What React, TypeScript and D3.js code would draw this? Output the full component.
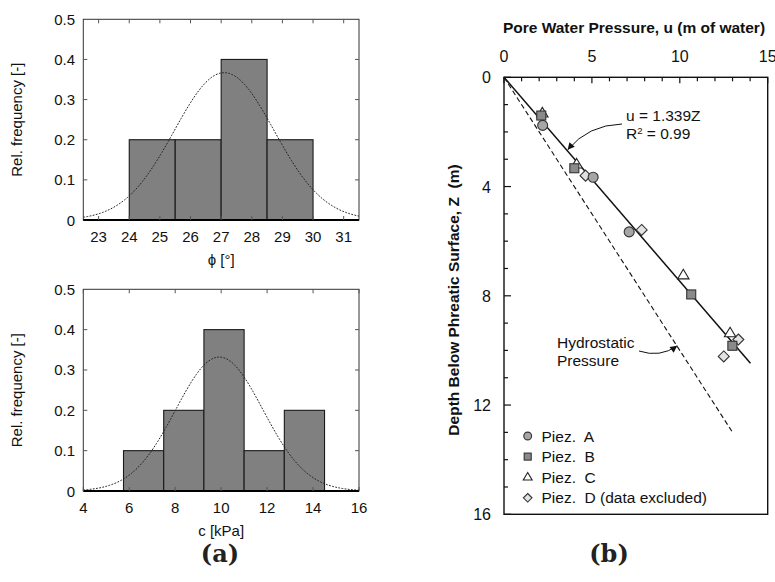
import React from "react";
import * as d3 from "d3";

// ---------- Data ----------
const phiEdges = [24, 25.5, 27, 28.5, 30];
const phiFreq = [0.2, 0.2, 0.4, 0.2];
const phiTicks = [23, 24, 25, 26, 27, 28, 29, 30, 31];
const phiFit = { mean: 27.1, sd: 1.63, peak: 0.367 };

const cEdges = [5.75, 7.5, 9.25, 11, 12.75, 14.5];
const cFreq = [0.1, 0.2, 0.4, 0.1, 0.2];
const cTicks = [4, 6, 8, 10, 12, 14, 16];
const cFit = { mean: 9.92, sd: 1.9, peak: 0.332 };

const freqTicks = [0, 0.1, 0.2, 0.3, 0.4, 0.5];

// Pore pressure (u, Z)
const piezA = [[2.2, 1.76], [5.07, 3.66], [7.12, 5.66]];
const piezB = [[2.12, 1.4], [4.0, 3.33], [10.65, 7.95], [12.99, 9.83]];
const piezC = [[2.18, 1.32], [4.13, 3.19], [10.2, 7.25], [12.86, 9.37]];
const piezD = [[4.64, 3.6], [7.83, 5.59], [13.33, 9.6], [12.5, 10.22]];
const fitSlope = 1.339;
const fitZmax = 10.47;
const hydroZmax = 13;
const uTicks = [0, 5, 10, 15];
const zTicks = [0, 4, 8, 12, 16];
const legendLabels = ["Piez.  A", "Piez.  B", "Piez.  C", "Piez.  D (data excluded)"];

const FONT = "'Liberation Sans', Arial, Helvetica, sans-serif";

function Hist({ y0, y1, xDomain, xTicks, edges, freqs, fit, xLabel }) {
  const x = d3.scaleLinear().domain(xDomain).range([83.3, 359]);
  const y = d3.scaleLinear().domain([0, 0.5]).range([y1, y0]);
  const pts = d3.range(xDomain[0], xDomain[1] + 0.001, (xDomain[1] - xDomain[0]) / 200).map((v) => [
    v,
    fit.peak * Math.exp(-((v - fit.mean) ** 2) / (2 * fit.sd * fit.sd)),
  ]);
  const line = d3.line().x((d) => x(d[0])).y((d) => y(d[1]));
  const tl = 4;
  return (
    <g fontFamily={FONT}>
      {freqs.map((f, i) => (
        <rect key={i} x={x(edges[i])} y={y(f)} width={x(edges[i + 1]) - x(edges[i])} height={y(0) - y(f)}
          fill="#808080" stroke="#1a1a1a" strokeWidth={1.1} />
      ))}
      <path d={line(pts)} fill="none" stroke="#222" strokeWidth={1} strokeDasharray="1.8,1.4" />
      <rect x={x.range()[0]} y={y0} width={x.range()[1] - x.range()[0]} height={y1 - y0} fill="none" stroke="#333" strokeWidth={1} />
      <line x1={x.range()[0]} x2={x.range()[1]} y1={y(0)} y2={y(0)} stroke="#000" strokeWidth={2} />
      {xTicks.map((t) => (
        <g key={t}>
          <line x1={x(t)} x2={x(t)} y1={y1} y2={y1 - tl} stroke="#555" />
          <line x1={x(t)} x2={x(t)} y1={y0} y2={y0 + tl} stroke="#555" />
          <text x={x(t)} y={y1 + 22} textAnchor="middle" fontSize={15} fill="#111">{t}</text>
        </g>
      ))}
      {freqTicks.map((t) => (
        <g key={t}>
          {t > 0 && t < 0.5 && (
            <>
              <line x1={x.range()[0]} x2={x.range()[0] + tl} y1={y(t)} y2={y(t)} stroke="#555" />
              <line x1={x.range()[1]} x2={x.range()[1] - tl} y1={y(t)} y2={y(t)} stroke="#555" />
            </>
          )}
          <text x={75} y={y(t) + 5.5} textAnchor="end" fontSize={15} fill="#111">{t === 0 ? "0" : t.toFixed(1)}</text>
        </g>
      ))}
      <text transform={`translate(22,${(y0 + y1) / 2}) rotate(-90)`} textAnchor="middle" fontSize={15} fill="#111">Rel. frequency [-]</text>
      <text x={(x.range()[0] + x.range()[1]) / 2} y={y1 + 45} textAnchor="middle" fontSize={15} fill="#111">{xLabel}</text>
    </g>
  );
}

function Marker({ type, cx, cy, s = 1 }) {
  if (type === "A") return <circle cx={cx} cy={cy} r={5 * s} fill="#a6a6a6" stroke="#333" strokeWidth={1.1} />;
  if (type === "B") return <rect x={cx - 4.5 * s} y={cy - 4.5 * s} width={9 * s} height={9 * s} fill="#8a8a8a" stroke="#333" strokeWidth={1.1} />;
  if (type === "C") {
    const r = 6 * s;
    return <path d={`M${cx},${cy - r} L${cx + r * 0.95},${cy + r * 0.6} L${cx - r * 0.95},${cy + r * 0.6} Z`} fill="#fff" stroke="#222" strokeWidth={1.1} />;
  }
  const r = 5.5 * s;
  return <path d={`M${cx},${cy - r} L${cx + r},${cy} L${cx},${cy + r} L${cx - r},${cy} Z`} fill="#e2e2e2" stroke="#333" strokeWidth={1.1} />;
}

function Pressure() {
  const x = d3.scaleLinear().domain([0, 15]).range([504, 767.7]);
  const y = d3.scaleLinear().domain([0, 16]).range([77.3, 514.3]);
  const minorU = d3.range(0, 16, 1);
  const minorZ = d3.range(0, 17, 1);
  const series = [
    ["D", piezD],
    ["C", piezC],
    ["B", piezB],
    ["A", piezA],
  ];
  const fitEndZ = 2.62;
  const hydEndZ = 9.83;
  const ax = x(fitSlope * fitEndZ) + 2;
  const ay = y(fitEndZ) + 1;
  const hx = x(hydEndZ) + 0.5;
  const hy = y(hydEndZ);
  return (
    <g fontFamily={FONT}>
      <defs>
        <marker id="arr" viewBox="0 0 10 10" refX="10" refY="5" markerWidth="9" markerHeight="7" markerUnits="userSpaceOnUse" orient="auto">
          <path d="M0,0 L10,5 L0,10 Z" fill="#111" />
        </marker>
      </defs>
      <rect x={504} y={77.3} width={263.7} height={437} fill="none" stroke="#111" strokeWidth={1.4} />
      {minorU.map((t) => (
        <line key={t} x1={x(t)} x2={x(t)} y1={y(0)} y2={y(0) + (t % 5 === 0 ? 6 : 4)} stroke="#111" strokeWidth={1.2} />
      ))}
      {minorZ.map((t) => (
        <line key={t} x1={x(0)} x2={x(0) + (t % 4 === 0 ? 7 : 4)} y1={y(t)} y2={y(t)} stroke="#111" strokeWidth={1.2} />
      ))}
      {uTicks.map((t) => (
        <text key={t} x={x(t)} y={62} textAnchor="middle" fontSize={16} fill="#111">{t}</text>
      ))}
      {zTicks.map((t) => (
        <text key={t} x={491} y={y(t) + 6} textAnchor="end" fontSize={16} fill="#111">{t}</text>
      ))}
      <text x={634} y={33} textAnchor="middle" fontSize={15.5} fontWeight="bold" fill="#111">Pore Water Pressure, u (m of water)</text>
      <text transform={`translate(459,${300}) rotate(-90)`} textAnchor="middle" fontSize={15.5} fontWeight="bold" fill="#111" style={{ whiteSpace: "pre" }}>Depth Below Phreatic Surface, Z  (m)</text>

      <line x1={x(0)} y1={y(0)} x2={x(hydroZmax)} y2={y(hydroZmax)} stroke="#111" strokeWidth={1.1} strokeDasharray="5,3" />
      <line x1={x(0)} y1={y(0)} x2={x(fitSlope * fitZmax)} y2={y(fitZmax)} stroke="#111" strokeWidth={1.5} />

      {series.map(([k, pts]) =>
        pts.map((p, i) => <Marker key={k + i} type={k} cx={x(p[0])} cy={y(p[1])} />)
      )}

      <text x={626} y={121} fontSize={15.5} fill="#111">u = 1.339Z</text>
      <text x={626} y={139} fontSize={15.5} fill="#111">R<tspan dy={-5} fontSize={9.5}>2</tspan><tspan dy={5}> = 0.99</tspan></text>
      <path d={`M622,124 Q588,125 ${ax},${ay}`} fill="none" stroke="#111" strokeWidth={1} markerEnd="url(#arr)" />

      <text x={557} y={348} fontSize={15.5} fill="#111">Hydrostatic</text>
      <text x={557} y={366} fontSize={15.5} fill="#111">Pressure</text>
      <path d={`M639,351 Q660,358 ${hx},${hy}`} fill="none" stroke="#111" strokeWidth={1} markerEnd="url(#arr)" />

      {["A", "B", "C", "D"].map((k, i) => (
        <g key={k}>
          <Marker type={k} cx={527.7} cy={436 + i * 20.6} s={0.78} />
          <text x={541.5} y={441.5 + i * 20.6} fontSize={15.5} fill="#111" style={{ whiteSpace: "pre" }}>{legendLabels[i]}</text>
        </g>
      ))}
    </g>
  );
}

export default function App() {
  return (
    <svg width={775} height={582} style={{ position: "absolute", left: 0, top: 0, background: "#fff" }}>
      <rect width={775} height={582} fill="#fff" />
      <Hist y0={19.3} y1={220} xDomain={[22.5, 31.5]} xTicks={phiTicks} edges={phiEdges} freqs={phiFreq} fit={phiFit} xLabel="ϕ [°]" />
      <Hist y0={289.3} y1={491} xDomain={[4, 16]} xTicks={cTicks} edges={cEdges} freqs={cFreq} fit={cFit} xLabel="c [kPa]" />
      <Pressure />
      <text x={220} y={562} textAnchor="middle" fontSize={24} fontWeight="bold" fontFamily="'DejaVu Serif', serif" fill="#222">(a)</text>
      <text x={609} y={562} textAnchor="middle" fontSize={24} fontWeight="bold" fontFamily="'DejaVu Serif', serif" fill="#222">(b)</text>
    </svg>
  );
}
